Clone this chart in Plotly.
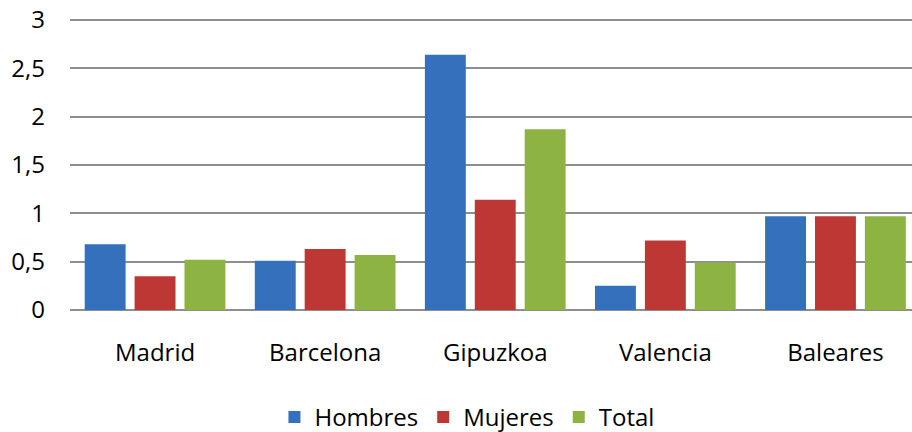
import plotly.graph_objects as go

categories = ["Madrid", "Barcelona", "Gipuzkoa", "Valencia", "Baleares"]
hombres = [0.68, 0.51, 2.64, 0.25, 0.97]
mujeres = [0.35, 0.63, 1.14, 0.72, 0.97]
total = [0.52, 0.57, 1.87, 0.49, 0.97]
series_names = ["Hombres", "Mujeres", "Total"]
colors = ["#3470BC", "#BD3835", "#8DB443"]
y_tickvals = [0, 0.5, 1, 1.5, 2, 2.5, 3]
y_ticktext = ["0", "0,5", "1", "1,5", "2", "2,5", "3"]

fig = go.Figure()
for name, vals, col in zip(series_names, [hombres, mujeres, total], colors):
    fig.add_trace(go.Bar(x=list(range(len(categories))), y=vals, name=name,
                         marker=dict(color=col, line=dict(width=0))))

font_family = "'Open Sans', sans-serif"
fig.update_layout(
    width=912, height=432,
    margin=dict(l=70, r=0, t=18, b=122, autoexpand=False),
    paper_bgcolor="white", plot_bgcolor="white",
    barmode="group", bargap=0.12, bargroupgap=0.18,
    font=dict(family=font_family, size=24, color="#000000"),
    showlegend=True,
    legend=dict(orientation="h", x=0.512, xanchor="center", xref="container",
                yref="container", y=0.034, yanchor="middle",
                font=dict(size=24), itemwidth=30, traceorder="normal"),
    xaxis=dict(range=[-0.5, 4.45], tickvals=list(range(len(categories))),
               ticktext=categories, showgrid=False, zeroline=False, showline=False,
               automargin=False, ticks="", ticklabelstandoff=26),
    yaxis=dict(range=[0, 3.02], tickvals=y_tickvals, ticktext=y_ticktext,
               showgrid=True, gridcolor="#8E8E8E", gridwidth=1.5,
               zeroline=True, zerolinecolor="#8E8E8E", zerolinewidth=1.5,
               automargin=False, showline=False, ticks="", ticklabelstandoff=24,
               ticklabeloverflow="allow"),
)
fig.write_html("out.html", config={"displayModeBar": False},
               post_script="document.body.style.margin='0';document.body.style.overflow='hidden';")
